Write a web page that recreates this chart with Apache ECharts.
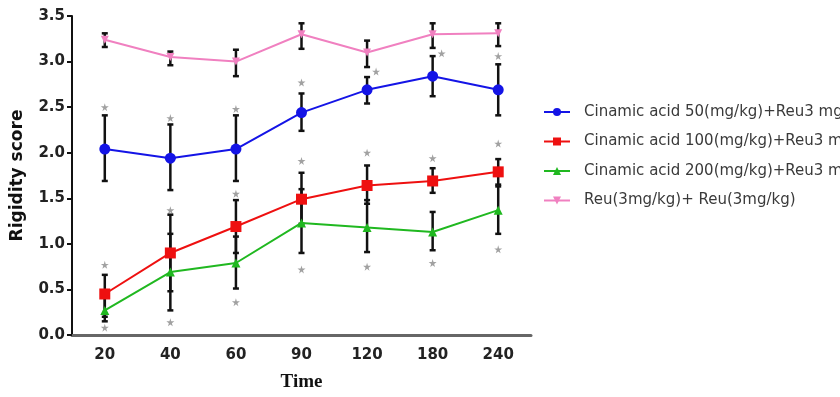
<!DOCTYPE html>
<html>
<head>
<meta charset="utf-8">
<script src="https://cdn.jsdelivr.net/npm/echarts@6/dist/echarts.min.js"></script>
<style>html,body{margin:0;padding:0;background:#fff;}#c{width:840px;height:397px;}</style>
</head>
<body>
<div id="c"></div>
<script>
const categories = ['20', '40', '60', '90', '120', '180', '240'];
const seriesNames = [
  'Cinamic acid 50(mg/kg)+Reu3 mg/kg)',
  'Cinamic acid 100(mg/kg)+Reu3 mg/kg)',
  'Cinamic acid 200(mg/kg)+Reu3 mg/kg)',
  'Reu(3mg/kg)+ Reu(3mg/kg)'
];
const acid50 = [2.04, 1.94, 2.04, 2.44, 2.69, 2.84, 2.69];
const acid100 = [0.45, 0.90, 1.19, 1.49, 1.64, 1.69, 1.79];
const acid200 = [0.27, 0.69, 0.79, 1.23, 1.18, 1.13, 1.37];
const reu = [3.24, 3.05, 3.00, 3.30, 3.10, 3.30, 3.31];

const acid50Low = [1.69, 1.59, 1.69, 2.24, 2.54, 2.62, 2.41];
const acid50High = [2.41, 2.31, 2.41, 2.65, 2.83, 3.06, 2.97];
const acid100Low = [0.20, 0.48, 0.90, 1.22, 1.44, 1.56, 1.65];
const acid100High = [0.66, 1.32, 1.48, 1.78, 1.86, 1.83, 1.93];
const acid200Low = [0.15, 0.27, 0.51, 0.90, 0.91, 0.93, 1.11];
const acid200High = [0.42, 1.11, 1.08, 1.60, 1.48, 1.35, 1.63];
const reuLow = [3.16, 2.96, 2.84, 3.14, 2.94, 3.15, 3.17];
const reuHigh = [3.31, 3.11, 3.13, 3.42, 3.23, 3.42, 3.42];

// significance stars: [category index, value]
const starsUpper50 = [[0, 2.50], [1, 2.38], [2, 2.48], [3, 2.77], [4, 2.89], [5, 3.09], [6, 3.06]];
const starsUpper100 = [[0, 0.77], [1, 1.37], [2, 1.55], [3, 1.91], [4, 2.00], [5, 1.94], [6, 2.10]];
const starsLower200 = [[0, 0.08], [1, 0.14], [2, 0.36], [3, 0.72], [4, 0.75], [5, 0.79], [6, 0.94]];
const offsetStars = [4, 5];

const yTicks = [0, 0.5, 1, 1.5, 2, 2.5, 3, 3.5];

function errData(lo, hi) { return lo.map((v, i) => [i, v, hi[i]]); }

function errRender(params, api) {
  const x = api.value(0);
  const p1 = api.coord([x, api.value(2)]);
  const p2 = api.coord([x, api.value(1)]);
  const w = 3;
  const st = { stroke: '#111', lineWidth: 2.5 };
  return {
    type: 'group',
    children: [
      { type: 'line', shape: { x1: p1[0], y1: p1[1], x2: p2[0], y2: p2[1] }, style: st },
      { type: 'line', shape: { x1: p1[0] - w, y1: p1[1], x2: p1[0] + w, y2: p1[1] }, style: st },
      { type: 'line', shape: { x1: p2[0] - w, y1: p2[1], x2: p2[0] + w, y2: p2[1] }, style: st }
    ]
  };
}

const starPath = 'path://M50,0 L61,35 L98,35 L68,57 L79,91 L50,70 L21,91 L32,57 L2,35 L39,35 Z';

function starSeries(data, shifted) {
  return {
    type: 'scatter', silent: true, z: 1,
    symbol: starPath, symbolSize: 8,
    itemStyle: { color: '#8a8a8a' },
    data: data.map(d => ({ value: d, symbolOffset: shifted && offsetStars.includes(d[0]) ? [9, 0] : [0, 0] }))
  };
}

const colors = ['#1414e6', '#ee1010', '#20b820', '#f080c0'];
const symbols = ['circle', 'rect', 'triangle', 'path://M0,0 L10,0 L5,9 Z'];
const sizes = [11, 11, 9, 8];
const values = [acid50, acid100, acid200, reu];

const lineSeries = values.map((v, k) => ({
  name: seriesNames[k], type: 'line', data: v, z: 3,
  symbol: symbols[k], symbolSize: sizes[k],
  lineStyle: { color: colors[k], width: 2 },
  itemStyle: { color: colors[k] }
}));

const errSeries = [[acid50Low, acid50High], [acid100Low, acid100High], [acid200Low, acid200High], [reuLow, reuHigh]]
  .map(p => ({ type: 'custom', renderItem: errRender, data: errData(p[0], p[1]), z: 2, silent: true, encode: { x: 0, y: [1, 2] } }));

const chart = echarts.init(document.getElementById('c'), null, { renderer: 'canvas' });
chart.setOption({
  animation: false,
  backgroundColor: '#fff',
  grid: { left: 72, right: 309, top: 16, bottom: 57 },
  legend: {
    data: seriesNames, orient: 'vertical', left: 543, top: 104, itemGap: 13.5,
    itemWidth: 26, itemHeight: 10, padding: 0,
    textStyle: { fontFamily: 'DejaVu Sans', fontSize: 15, lineHeight: 16, color: '#3a3a3a', padding: [0, 0, 0, 9] }
  },
  xAxis: {
    type: 'category', data: categories, boundaryGap: true,
    name: 'Time', nameLocation: 'middle', nameGap: 38,
    nameTextStyle: { fontFamily: 'Liberation Serif, Times New Roman', fontWeight: 'bold', fontSize: 19, color: '#111' },
    axisLine: { lineStyle: { color: '#666', width: 3 } },
    axisTick: { alignWithLabel: true, length: 7, lineStyle: { color: '#222', width: 2.5 } },
    axisLabel: { fontFamily: 'DejaVu Sans', fontWeight: 'bold', fontSize: 15, color: '#222', margin: 13 }
  },
  yAxis: {
    type: 'value', min: 0, max: 3.5, interval: 0.5,
    name: 'Rigidity score', nameLocation: 'middle', nameGap: 46,
    nameTextStyle: { fontFamily: 'DejaVu Sans', fontWeight: 'bold', fontSize: 17, color: '#111' },
    axisLine: { show: true, lineStyle: { color: '#111', width: 2 } },
    axisTick: { show: true, length: 5, lineStyle: { color: '#111', width: 2 } },
    splitLine: { show: false },
    axisLabel: { fontFamily: 'DejaVu Sans', fontWeight: 'bold', fontSize: 15, color: '#222', margin: 7,
      formatter: v => yTicks.includes(v) ? v.toFixed(1) : '' }
  },
  series: [
    ...errSeries,
    ...lineSeries,
    starSeries(starsUpper50, true),
    starSeries(starsUpper100, false),
    starSeries(starsLower200, false)
  ]
});
</script>
</body>
</html>
